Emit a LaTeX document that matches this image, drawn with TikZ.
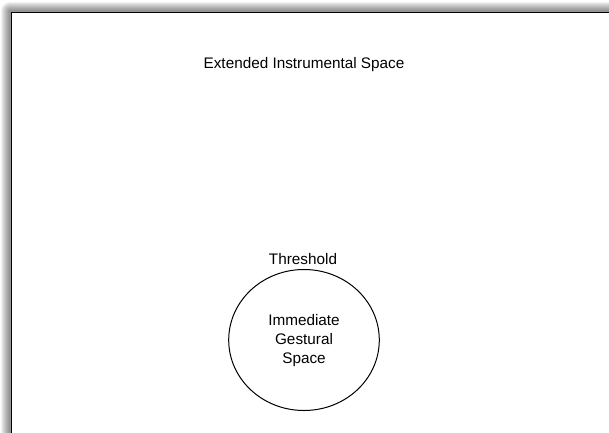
\documentclass[tikz,border=0pt]{standalone}
\usepackage{fontspec}
\setmainfont{Liberation Sans}
\usetikzlibrary{shapes.geometric}
\begin{document}
\begin{tikzpicture}[x=1pt,y=1pt,
  lbl/.style={font=\fontsize{15.3}{18.7}\selectfont, inner sep=0pt},
  spacering/.style={draw=black, line width=1pt, ellipse, inner sep=0pt,
    minimum width=150.6pt, minimum height=141pt},
  framebox/.style={draw=black, line width=1.4pt},
]
\useasboundingbox (0,0) rectangle (609,432);
\fill[white] (0,0) rectangle (609,432);
% shadow of the sheet
\foreach \k in {2,4,...,18}{
  \draw[line width=\k pt, draw opacity=0.055, line join=round]
    (10.2,-20) -- (10.2,421.2) -- (640,421.2);
}
\fill[white] (11.7,-20) rectangle (640,419.7);
\draw[framebox] (11.7,-20) -- (11.7,419.7) -- (640,419.7);

\node[lbl, anchor=base] (ext) at (304,363.5) {Extended Instrumental Space};
\node[spacering] (gs) at (304,92) {};
\node[lbl, anchor=base] (thr) at (303,168) {Threshold};
\node[lbl, align=center, yshift=-0.6pt] (gst) at (gs.center) {Immediate\\Gestural\\Space};
\end{tikzpicture}
\end{document}
